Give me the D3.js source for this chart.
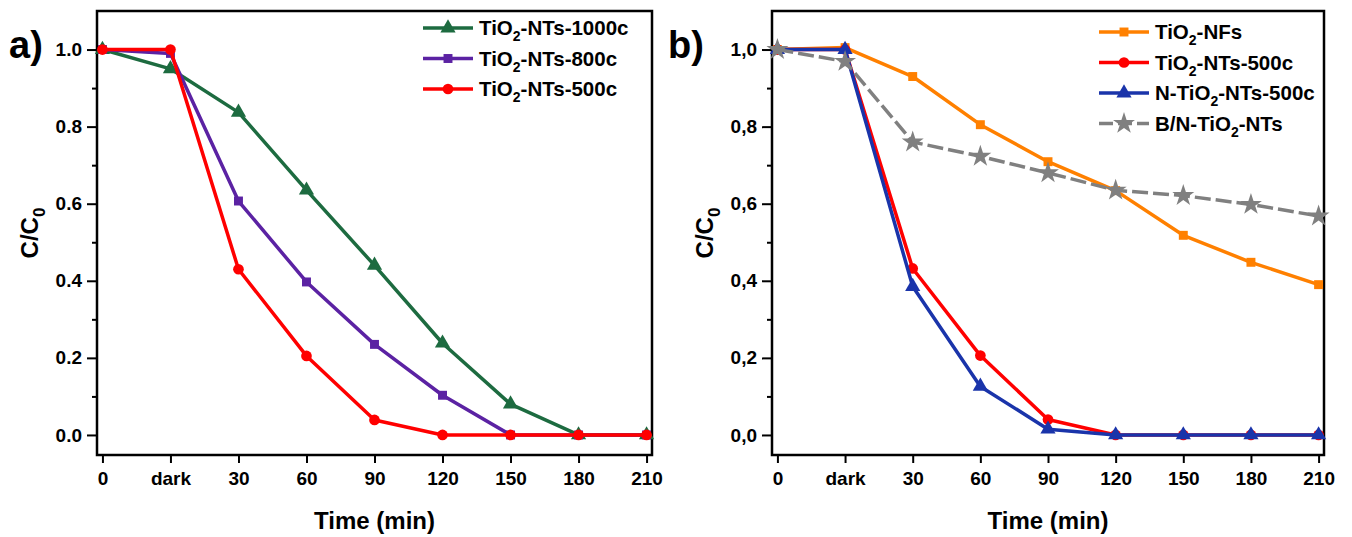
<!DOCTYPE html>
<html>
<head>
<meta charset="utf-8">
<script src="https://cdn.jsdelivr.net/npm/d3@7"></script>
<style>
  body { margin: 0; background: #fff; }
  text { font-family: "Liberation Sans", Arial, sans-serif; font-weight: bold; }
</style>
</head>
<body>
<svg id="chart" width="1352" height="537"></svg>
<script>
// x categories (same for both panels)
var timeLabels = ["0", "dark", "30", "60", "90", "120", "150", "180", "210"];

// panel a
var nts1000 = [1.0, 0.95, 0.837, 0.635, 0.44, 0.238, 0.08, 0.0, 0.0];
var nts800  = [1.0, 0.99, 0.607, 0.397, 0.235, 0.103, 0.0, 0.0, 0.0];
var nts500  = [1.0, 1.0, 0.43, 0.205, 0.039, 0.0, 0.0, 0.0, 0.0];

// panel b
var nfs     = [1.0, 1.005, 0.93, 0.805, 0.709, 0.634, 0.518, 0.448, 0.39];
var nts500b = [1.0, 1.0, 0.432, 0.206, 0.04, 0.0, 0.0, 0.0, 0.0];
var nNts500 = [1.0, 1.0, 0.385, 0.126, 0.015, 0.0, 0.0, 0.0, 0.0];
var bnNts   = [1.0, 0.969, 0.76, 0.723, 0.68, 0.635, 0.621, 0.598, 0.568];

var yTicks = [0.0, 0.2, 0.4, 0.6, 0.8, 1.0];

var svg = d3.select("#chart");

function drawPanel(opt) {
  var g = svg.append("g");
  var x = d3.scaleLinear().domain([-0.08, 8.08]).range([opt.left, opt.right]);
  var y = d3.scaleLinear().domain([-0.052, 1.1]).range([opt.bottom, opt.top]);

  // frame
  g.append("rect")
    .attr("x", opt.left).attr("y", opt.top)
    .attr("width", opt.right - opt.left).attr("height", opt.bottom - opt.top)
    .attr("fill", "none").attr("stroke", "#000").attr("stroke-width", 2.5);

  // x axis
  var xAxis = g.append("g")
    .attr("transform", "translate(0," + opt.bottom + ")")
    .call(d3.axisBottom(x).tickValues(d3.range(timeLabels.length))
      .tickFormat(function(i) { return timeLabels[i]; })
      .tickSize(8).tickPadding(9));
  xAxis.select(".domain").remove();
  xAxis.selectAll("line").attr("stroke-width", 2);
  xAxis.selectAll("text").attr("font-size", 19).attr("fill", "#000")
    .style("font-family", "Liberation Sans, Arial, sans-serif").style("font-weight", "bold");

  // y axis minor ticks
  var yMinor = g.append("g")
    .attr("transform", "translate(" + opt.left + ",0)")
    .call(d3.axisLeft(y).tickValues(d3.range(0.1, 1.1, 0.2)).tickSize(5).tickFormat(""));
  yMinor.select(".domain").remove();
  yMinor.selectAll("line").attr("stroke-width", 2);

  // y axis major
  var yAxis = g.append("g")
    .attr("transform", "translate(" + opt.left + ",0)")
    .call(d3.axisLeft(y).tickValues(yTicks).tickSize(10).tickPadding(5)
      .tickFormat(function(d) { return opt.fmt(d); }));
  yAxis.select(".domain").remove();
  yAxis.selectAll("line").attr("stroke-width", 2);
  yAxis.selectAll("text").attr("font-size", 19).attr("fill", "#000")
    .style("font-family", "Liberation Sans, Arial, sans-serif").style("font-weight", "bold");

  // axis titles
  g.append("text")
    .attr("x", (opt.left + opt.right) / 2).attr("y", 529)
    .attr("text-anchor", "middle").attr("font-size", 24)
    .text("Time (min)");

  var yt = g.append("text")
    .attr("transform", "translate(" + opt.ytitleX + "," + ((opt.top + opt.bottom) / 2) + ") rotate(-90)")
    .attr("text-anchor", "middle").attr("font-size", 24);
  yt.append("tspan").text("C/C");
  yt.append("tspan").attr("font-size", 17).attr("dy", 7).text("0");

  // panel label
  g.append("text")
    .attr("x", opt.labelX).attr("y", 58)
    .attr("font-size", 38)
    .text(opt.label);

  var line = d3.line()
    .x(function(d, i) { return x(i); })
    .y(function(d) { return y(d); });

  opt.series.forEach(function(s) {
    g.append("path")
      .datum(s.values)
      .attr("d", line)
      .attr("fill", "none")
      .attr("stroke", s.color)
      .attr("stroke-width", 3.5)
      .attr("stroke-linejoin", "round")
      .attr("stroke-dasharray", s.dash || null);

    g.selectAll(null)
      .data(s.values)
      .enter().append("path")
      .attr("transform", function(d, i) { return "translate(" + x(i) + "," + y(d) + ")"; })
      .attr("d", d3.symbol().type(s.symbol).size(s.size))
      .attr("fill", s.color);
  });

  // legend
  opt.series.slice().sort(function(a, b) { return a.order - b.order; }).forEach(function(s, k) {
    var ly = opt.legY + k * opt.legStep;
    var lg = g.append("g");
    lg.append("line")
      .attr("x1", opt.legX).attr("x2", opt.legX + 50)
      .attr("y1", ly).attr("y2", ly)
      .attr("stroke", s.color).attr("stroke-width", 3.5)
      .attr("stroke-dasharray", s.dash ? "14,5" : null);
    lg.append("path")
      .attr("transform", "translate(" + (opt.legX + 25) + "," + ly + ")")
      .attr("d", d3.symbol().type(s.symbol).size(s.size))
      .attr("fill", s.color);
    var t = lg.append("text")
      .attr("x", opt.legX + 56).attr("y", ly + 7)
      .attr("font-size", 20.5);
    s.name.forEach(function(part) {
      if (part.sub) {
        t.append("tspan").attr("font-size", 14).attr("dy", 6).text(part.t);
      } else {
        t.append("tspan").attr("dy", part.up ? -6 : 0).text(part.t);
      }
    });
  });
}

function tio2(pre, post) {
  var parts = [];
  parts.push({t: pre + "TiO"});
  parts.push({t: "2", sub: true});
  parts.push({t: post, up: true});
  return parts;
}

drawPanel({
  left: 97, right: 652, top: 11, bottom: 455,
  fmt: d3.format(".1f"),
  ytitleX: 38, label: "a)", labelX: 9,
  legX: 423, legY: 28, legStep: 30.5,
  series: [
    {name: tio2("", "-NTs-1000c"), values: nts1000, color: "#1d6b40", symbol: d3.symbolTriangle, size: 100, order: 0},
    {name: tio2("", "-NTs-800c"), values: nts800, color: "#5b22a3", symbol: d3.symbolSquare, size: 80, order: 1},
    {name: tio2("", "-NTs-500c"), values: nts500, color: "#ff0000", symbol: d3.symbolCircle, size: 90, order: 2}
  ]
});

drawPanel({
  left: 772, right: 1324, top: 11, bottom: 455,
  fmt: function(d) { return d3.format(".1f")(d).replace(".", ","); },
  ytitleX: 713, label: "b)", labelX: 668,
  legX: 1099, legY: 32, legStep: 30.5,
  series: [
    {name: tio2("", "-NFs"), values: nfs, color: "#ff8000", symbol: d3.symbolSquare, size: 80, order: 0},
    {name: tio2("", "-NTs-500c"), values: nts500b, color: "#ff0000", symbol: d3.symbolCircle, size: 90, order: 1},
    {name: tio2("N-", "-NTs-500c"), values: nNts500, color: "#1a34aa", symbol: d3.symbolTriangle, size: 100, order: 2},
    {name: tio2("B/N-", "-NTs"), values: bnNts, color: "#808080", symbol: d3.symbolStar, size: 150, dash: "16,5", order: 3}
  ]
});
</script>
</body>
</html>
